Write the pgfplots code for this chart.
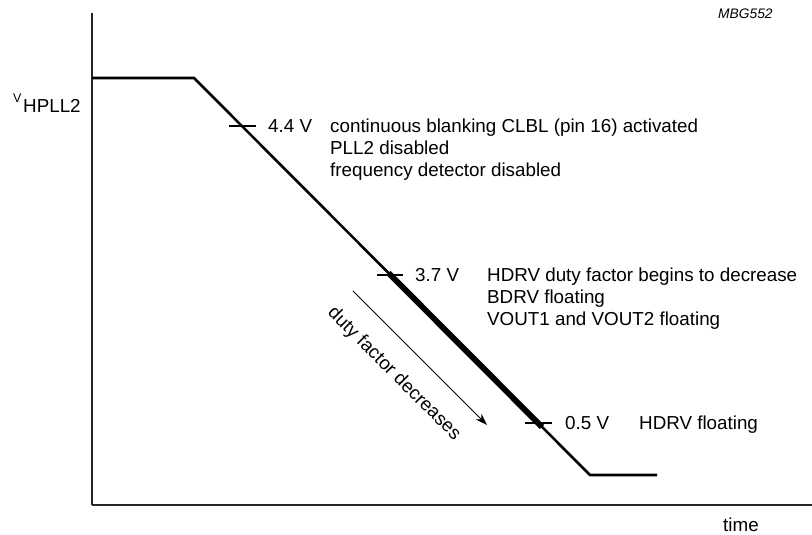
\documentclass[border=0pt]{standalone}
\usepackage{fontspec}
\setmainfont{Liberation Sans}
\usepackage{pgfplots}
\pgfplotsset{compat=1.18}
\usetikzlibrary{arrows.meta}
\begin{document}
\begin{tikzpicture}[
  lbl/.style={anchor=base west, inner sep=0pt, font=\fontsize{18.8}{22}\selectfont}]
\begin{axis}[
  scale only axis, width=720pt, height=492pt,
  xmin=92, xmax=812, ymin=30, ymax=522,
  axis lines=left, axis line style={-, line width=1.3pt, black!85},
  ticks=none, clip=false]
% main voltage trace
\addplot[black, line width=2.6pt, line join=miter] coordinates {(92,457) (194,457) (590,60) (657,60)};
% thick section (duty factor decreasing)
\addplot[black, line width=5.8pt] coordinates {(388.5,262) (542,108)};
% level ticks
\addplot[black, line width=1.3pt] coordinates {(229,409) (256,409)};
\addplot[black, line width=1.3pt] coordinates {(377,260) (403,260)};
\addplot[black, line width=1.3pt] coordinates {(525,112) (552,112)};
% arrow
\addplot[black, line width=0.9pt, -{Stealth[length=12pt,width=8pt]}] coordinates {(353,244) (487,110)};
% labels
\node[lbl] at (axis cs:268,402) {4.4 V};
\node[lbl] at (axis cs:330,402) {continuous blanking CLBL (pin 16) activated};
\node[lbl] at (axis cs:330,380) {PLL2 disabled};
\node[lbl] at (axis cs:330,358) {frequency detector disabled};
\node[lbl] at (axis cs:415,253) {3.7 V};
\node[lbl] at (axis cs:487,253) {HDRV duty factor begins to decrease};
\node[lbl] at (axis cs:487,231) {BDRV floating};
\node[lbl] at (axis cs:487,209) {VOUT1 and VOUT2 floating};
\node[lbl] at (axis cs:565,105) {0.5 V};
\node[lbl] at (axis cs:639,105) {HDRV floating};
\node[inner sep=0pt, rotate=-45, font=\fontsize{18.8}{22}\selectfont] at (axis cs:394,161) {duty factor decreases};
\node[anchor=base west, inner sep=0pt, font=\fontsize{12.5}{14}\selectfont] at (axis cs:13,432) {V};
\node[lbl] at (axis cs:23,422) {HPLL2};
\node[lbl] at (axis cs:723,3) {time};
\node[anchor=base west, inner sep=0pt, font=\fontsize{13.8}{16}\selectfont\itshape] at (axis cs:718,516) {MBG552};
\coordinate (BL) at (axis cs:0,0);
\coordinate (TR) at (axis cs:812,535);
\end{axis}
\pgfresetboundingbox
\path[use as bounding box] (BL) rectangle (TR);
\end{tikzpicture}
\end{document}
